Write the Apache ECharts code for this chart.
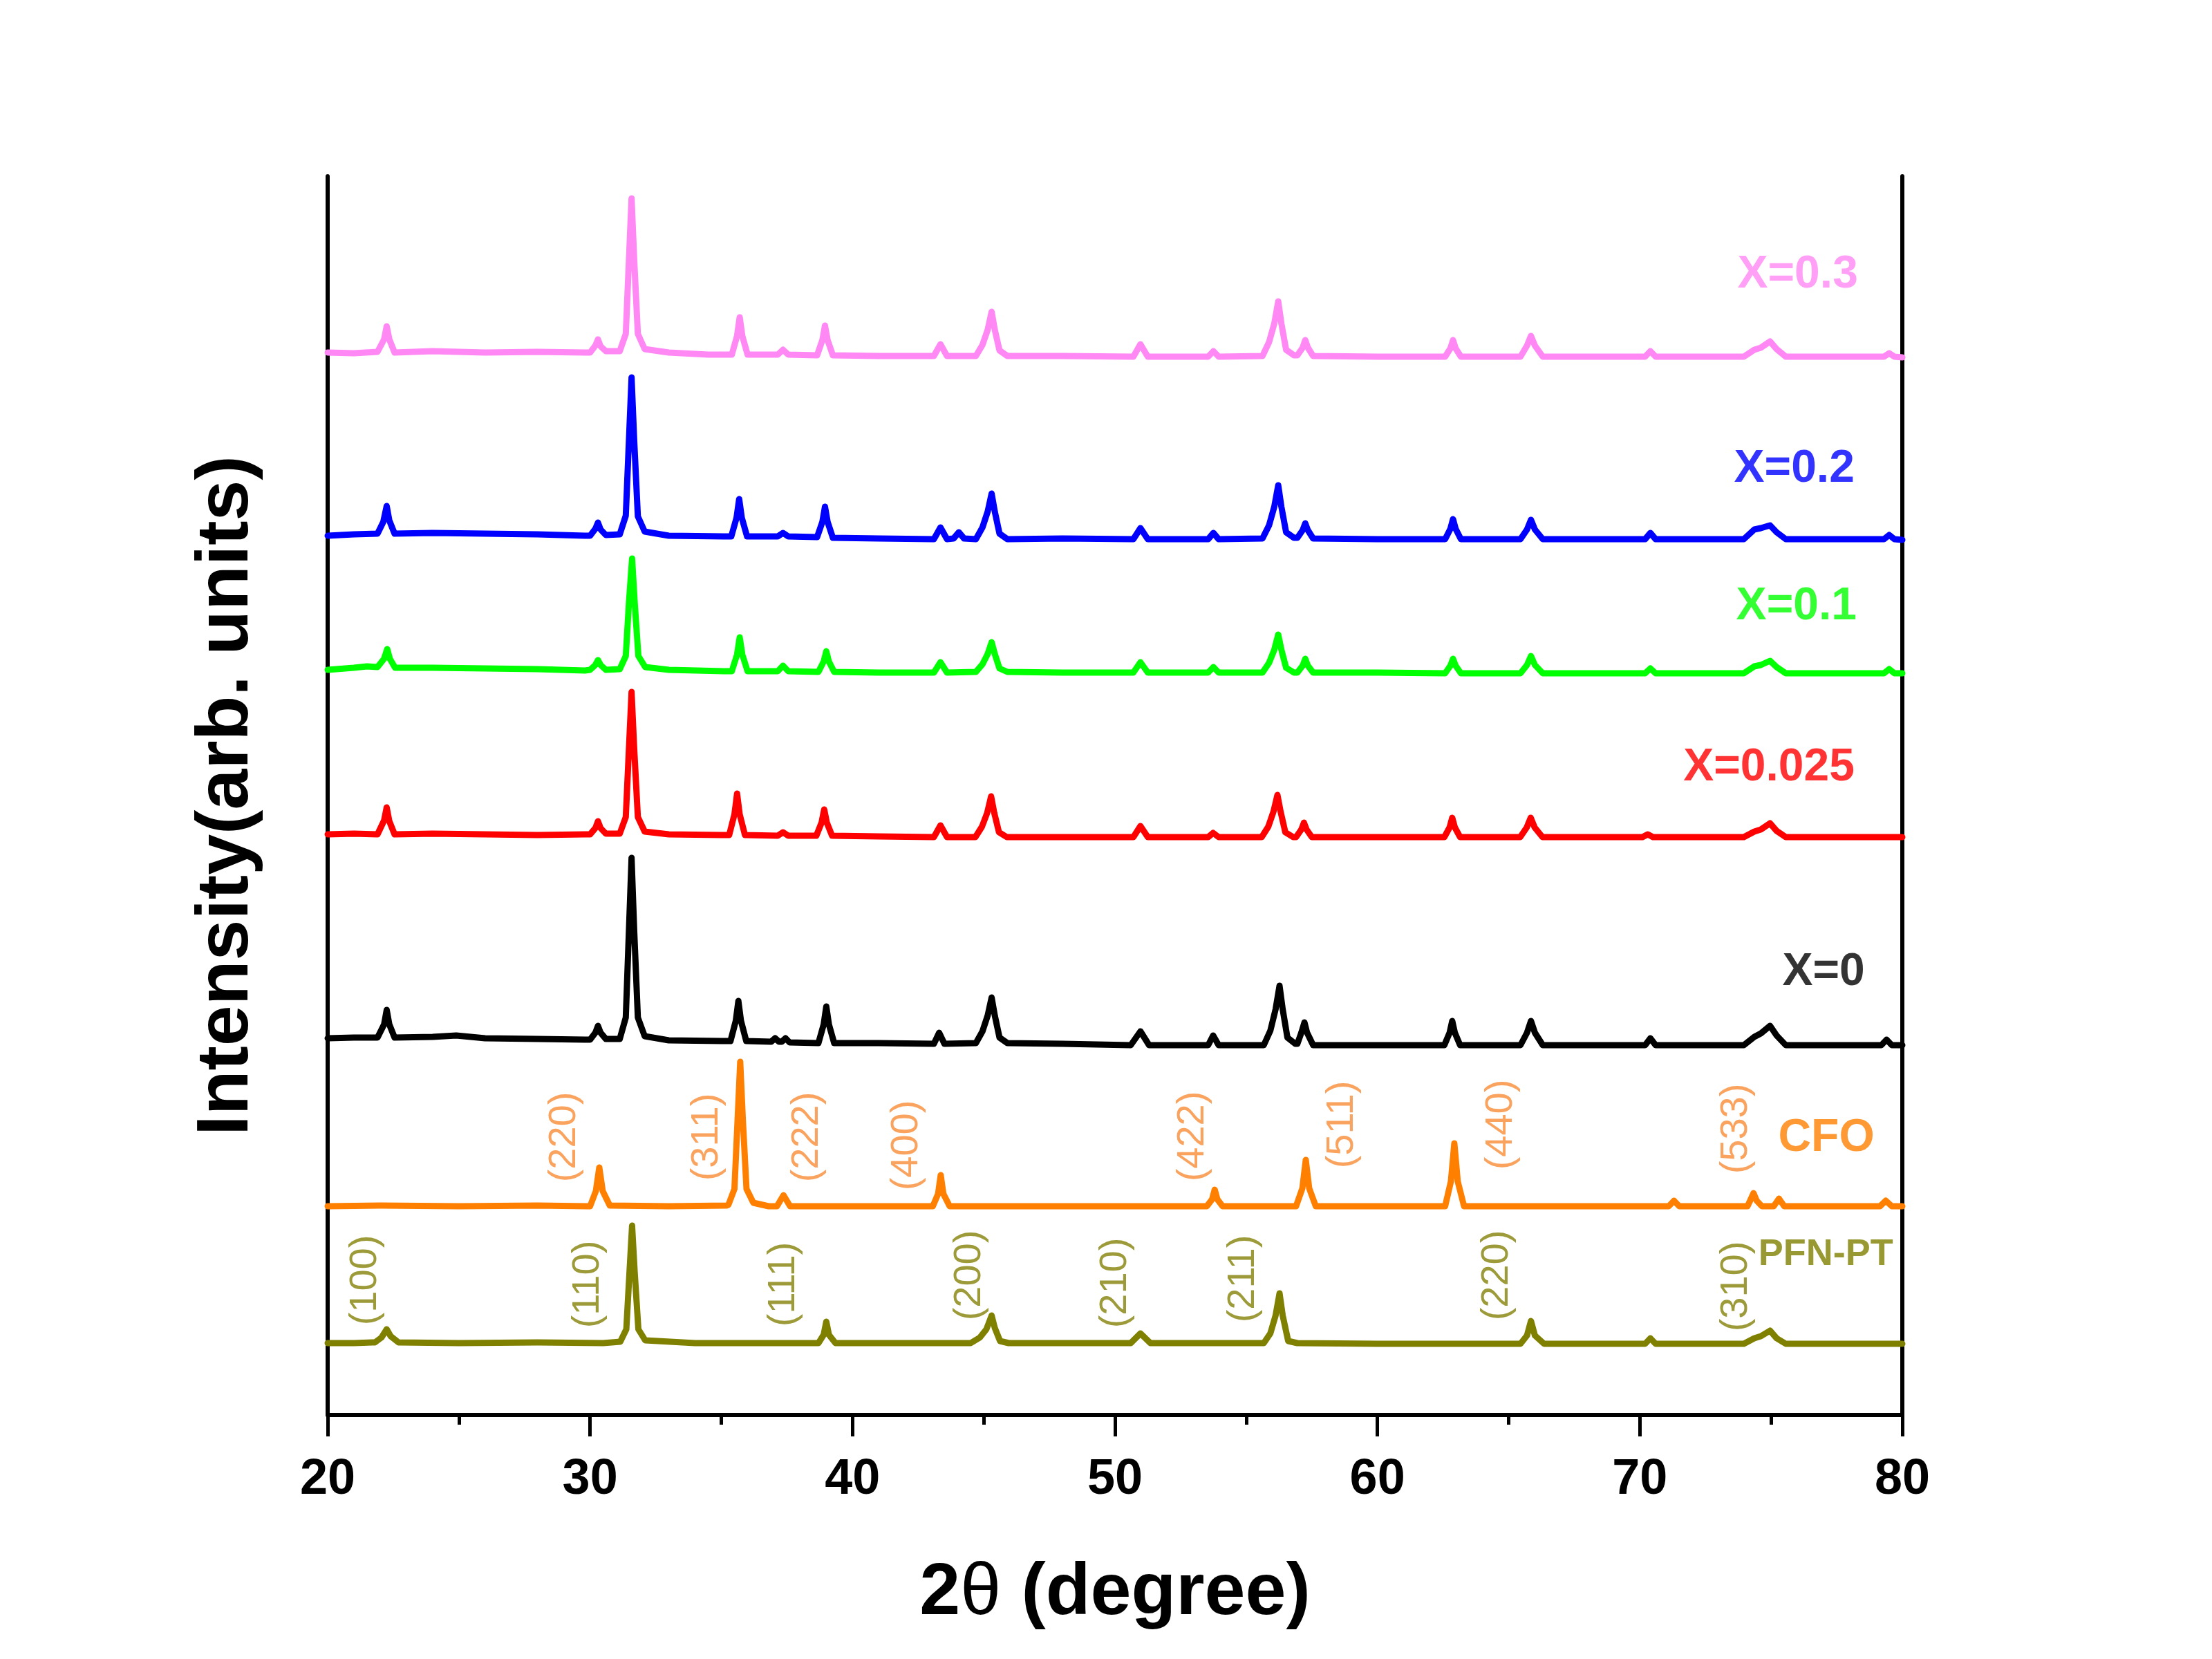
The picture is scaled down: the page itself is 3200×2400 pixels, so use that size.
<!DOCTYPE html>
<html>
<head>
<meta charset="utf-8">
<script src="https://cdn.jsdelivr.net/npm/echarts@6/dist/echarts.min.js"></script>
<style>
html,body{margin:0;padding:0;background:#fff;}
#chart{width:3200px;height:2400px;}
</style>
</head>
<body>
<div id="chart"></div>
<script>
// ---- DATA (2θ in degrees, intensity in arbitrary units relative to each pattern's baseline) ----
var seriesNames = ['PFN-PT', 'CFO', 'X=0', 'X=0.025', 'X=0.1', 'X=0.2', 'X=0.3'];
var seriesColors = ['#808000', '#FF8000', '#000000', '#FF0000', '#00FF00', '#0000FF', '#FF88F4'];
var seriesOffsets = [104, 302, 545, 840, 1080, 1274, 1537];

var pfnpt = [[20,0],[21,0],[21.7,1],[21.8,1],[22.05,8],[22.25,20],[22.4,10],[22.7,1],[25,0],[28,1],[30.5,0],
  [31.15,2],[31.38,20],[31.5,102],[31.6,170],[31.7,102],[31.84,20],[32.1,4],[34,0],[38.6,0],
  [38.7,0],[38.9,12],[39.0,31],[39.1,12],[39.35,0],[42,0],[44.4,0],
  [44.5,0],[44.85,8],[45.1,20],[45.3,40],[45.42,22],[45.62,3],[45.95,0],[48,0],
  [50.6,0],[50.97,14],[51.35,0],[54,0],
  [55.67,0],[55.92,14],[56.12,40],[56.27,72],[56.39,40],[56.6,3],[56.95,0],[60,-1],
  [65.45,-1],[65.7,11],[65.85,32],[66.0,11],[66.35,-1],[68,-1],[70.2,-1],[70.4,7],[70.6,-1],[73.5,-1],
  [73.96,-1],[74.36,7],[74.61,10],[74.96,18],[75.21,7],[75.56,-1],[78,-1],[80,-1]];

var cfo = [[20,0],[22,1],[25,0],[28,1],[29.9,0],
  [30.0,0],[30.22,22],[30.35,56],[30.48,22],[30.75,1],[33,0],[35.2,1],
  [35.27,2],[35.5,25],[35.62,125],[35.72,209],[35.82,125],[35.96,25],[36.22,5],[36.8,0],
  [37.12,0],[37.37,16],[37.62,0],[40,0],[43.0,0],
  [43.06,0],[43.26,18],[43.36,45],[43.46,18],[43.7,0],[48,0],[53.5,0],
  [53.55,0],[53.7,10],[53.8,24],[53.9,10],[54.1,0],[56.9,0],
  [56.92,0],[57.14,26],[57.27,67],[57.4,26],[57.65,0],[62.5,0],
  [62.58,0],[62.8,36],[62.93,91],[63.06,36],[63.3,0],[66,0],[71.1,0],[71.3,8],[71.5,0],
  [74.1,0],[74.2,8],[74.33,19],[74.45,8],[74.65,0],[75.1,0],[75.3,11],[75.5,0],
  [78,0],[79.15,0],[79.37,8],[79.6,0],[80,0]];

var x000 = [[20,0],[21,1],[21.9,1],[21.95,1],[22.15,20],[22.25,41],[22.35,20],[22.55,1],
  [24,2],[24.9,4],[26,0],[28,-1],[29.8,-2],
  [30.0,-2],[30.2,8],[30.3,18],[30.4,8],[30.6,-1],
  [31.13,-1],[31.36,30],[31.48,156],[31.58,261],[31.68,156],[31.82,30],[32.08,3],[33,-3],[35.0,-4],
  [35.35,-4],[35.55,25],[35.65,54],[35.75,25],[35.95,-4],
  [36.9,-5],[37.05,0],[37.2,-5],[37.3,-5],[37.45,0],[37.6,-6],
  [38.7,-7],[38.9,20],[39.0,46],[39.1,20],[39.3,-7],[41,-7],[43.1,-8],[43.3,8],[43.5,-8],
  [44.7,-7],[44.95,10],[45.15,33],[45.3,59],[45.42,33],[45.6,1],[45.9,-7],[48,-8],
  [50.6,-10],[50.97,10],[51.3,-10],[53.55,-10],[53.74,4],[53.95,-10],
  [55.67,-10],[55.92,11],[56.12,42],[56.27,76],[56.39,42],[56.57,1],[56.87,-8],
  [56.95,-8],[57.1,8],[57.22,23],[57.32,8],[57.55,-10],[60,-10],
  [62.55,-10],[62.75,8],[62.85,25],[62.95,8],[63.15,-10],
  [65.45,-10],[65.7,8],[65.85,25],[66.0,8],[66.3,-10],[68,-10],[70.2,-10],[70.4,0],[70.6,-10],[73.5,-10],
  [73.96,-10],[74.36,2],[74.61,7],[74.96,18],[75.21,4],[75.56,-10],[77,-10],[79.2,-10],[79.4,-2],[79.6,-10],[80,-10]];

var x0025 = [[20,0],[21,1],[21.9,0],[21.95,0],[22.15,20],[22.25,39],[22.35,19],[22.55,0],
  [24,1],[26,0],[28,-1],[29.8,0],
  [30.0,0],[30.2,9],[30.3,19],[30.4,9],[30.6,1],
  [31.13,1],[31.36,25],[31.48,124],[31.58,206],[31.68,124],[31.82,25],[32.08,4],[33,0],[35.0,-1],
  [35.3,-1],[35.5,29],[35.6,59],[35.7,29],[35.9,-1],[37.15,-2],[37.35,3],[37.55,-2],
  [38.62,-2],[38.82,17],[38.92,36],[39.02,17],[39.22,-2],[41,-3],[43.1,-4],[43.35,13],[43.6,-4],
  [44.68,-4],[44.93,11],[45.13,31],[45.28,55],[45.4,31],[45.58,3],[45.88,-4],[48,-4],
  [50.7,-4],[50.97,12],[51.25,-4],[53.55,-4],[53.74,2],[53.95,-4],
  [55.59,-4],[55.84,11],[56.04,33],[56.19,57],[56.31,33],[56.49,3],[56.79,-4],
  [56.9,-4],[57.1,7],[57.2,17],[57.3,7],[57.5,-4],[60,-4],
  [62.55,-4],[62.75,10],[62.85,24],[62.95,10],[63.15,-4],
  [65.44,-4],[65.69,10],[65.84,24],[65.99,10],[66.29,-4],[68,-4],[70.1,-4],[70.3,0],[70.5,-4],[73.5,-4],
  [73.96,-4],[74.36,4],[74.61,7],[74.96,16],[75.21,5],[75.56,-4],[77,-4],[80,-4]];

var x010 = [[20,-2],[21,1],[21.5,3],[21.9,2],[21.95,1],[22.15,14],[22.27,28],[22.37,14],[22.57,1],
  [24,1],[26,0],[28,-1],[29.8,-3],
  [30.0,-2],[30.2,5],[30.3,12],[30.4,5],[30.6,-2],
  [31.13,-1],[31.36,18],[31.48,95],[31.6,159],[31.7,95],[31.84,18],[32.1,2],[33,-2],[35.1,-4],
  [35.4,-4],[35.6,20],[35.7,45],[35.8,20],[36.0,-4],[37.15,-4],[37.35,4],[37.55,-4],
  [38.7,-5],[38.9,10],[39.0,25],[39.1,10],[39.3,-5],[41,-6],[43.1,-6],[43.35,9],[43.6,-6],
  [44.7,-5],[44.95,6],[45.15,21],[45.3,38],[45.42,21],[45.6,0],[45.9,-5],[48,-6],
  [50.7,-6],[50.97,9],[51.25,-6],[53.55,-6],[53.75,2],[53.95,-6],
  [55.62,-6],[55.87,8],[56.07,27],[56.22,49],[56.34,27],[56.52,1],[56.82,-6],
  [56.95,-6],[57.15,4],[57.25,14],[57.35,4],[57.55,-6],[60,-6],
  [62.58,-7],[62.78,4],[62.88,14],[62.98,4],[63.18,-7],
  [65.45,-7],[65.7,5],[65.85,18],[66.0,5],[66.3,-7],[68,-7],[70.2,-7],[70.4,0],[70.6,-7],[73.5,-7],
  [73.96,-7],[74.36,3],[74.61,5],[74.96,11],[75.21,2],[75.56,-7],[77,-7],[79.3,-7],[79.5,-1],[79.7,-7],[80,-7]];

var x020 = [[20,-2],[21,0],[21.9,1],[21.95,0],[22.12,18],[22.25,41],[22.35,20],[22.55,1],
  [24,2],[26,1],[28,0],[29.8,-2],
  [30.0,-2],[30.2,8],[30.3,17],[30.4,7],[30.6,-1],
  [31.13,0],[31.36,27],[31.48,136],[31.58,227],[31.68,136],[31.82,26],[32.08,4],[33,-2],[35.1,-3],
  [35.38,-3],[35.58,24],[35.68,51],[35.78,24],[35.98,-3],[37.15,-3],[37.35,2],[37.55,-3],
  [38.65,-4],[38.85,18],[38.95,40],[39.05,18],[39.25,-5],[41,-6],[43.1,-7],[43.35,10],[43.6,-7],
  [43.85,-6],[44.05,3],[44.25,-6],
  [44.7,-7],[44.95,10],[45.15,33],[45.3,59],[45.42,33],[45.6,1],[45.9,-7],[48,-6],
  [50.7,-7],[50.97,9],[51.25,-7],[53.55,-7],[53.75,2],[53.95,-7],
  [55.62,-6],[55.87,13],[56.07,40],[56.22,71],[56.34,40],[56.52,3],[56.82,-5],
  [56.95,-5],[57.15,6],[57.25,16],[57.35,6],[57.55,-6],[60,-7],
  [62.58,-7],[62.78,8],[62.88,22],[62.98,8],[63.18,-7],
  [65.45,-7],[65.7,7],[65.85,21],[66.0,7],[66.3,-7],[68,-7],[70.2,-7],[70.4,2],[70.6,-7],[73.5,-7],
  [73.96,-7],[74.36,7],[74.61,9],[74.96,13],[75.21,3],[75.56,-7],[77,-7],[79.3,-7],[79.5,-1],[79.7,-7],[80,-8]];

var x030 = [[20,0],[21,-1],[21.9,1],[21.95,0],[22.15,19],[22.25,38],[22.35,19],[22.55,0],
  [24,2],[26,0],[28,1],[29.8,0],
  [30.0,0],[30.2,10],[30.3,19],[30.4,9],[30.6,2],
  [31.13,2],[31.36,27],[31.48,134],[31.58,223],[31.68,134],[31.82,27],[32.08,5],[33,0],[34.5,-3],
  [35.4,-3],[35.6,24],[35.7,51],[35.8,24],[36.0,-3],[37.15,-3],[37.35,4],[37.55,-3],
  [38.65,-4],[38.85,18],[38.95,39],[39.05,18],[39.25,-4],[41,-5],[43.1,-5],[43.35,12],[43.6,-5],
  [44.7,-5],[44.95,11],[45.15,33],[45.3,59],[45.42,33],[45.6,3],[45.9,-5],[48,-5],
  [50.7,-6],[50.97,12],[51.25,-6],[53.55,-6],[53.75,2],[53.95,-6],
  [55.62,-5],[55.87,15],[56.07,42],[56.22,74],[56.34,42],[56.52,4],[56.82,-4],
  [56.95,-4],[57.15,7],[57.25,18],[57.35,7],[57.55,-5],[60,-6],
  [62.58,-6],[62.78,6],[62.88,18],[62.98,6],[63.18,-6],
  [65.45,-6],[65.7,10],[65.85,24],[66.0,10],[66.3,-6],[68,-6],[70.2,-6],[70.4,2],[70.6,-6],[73.5,-6],
  [73.96,-6],[74.36,4],[74.61,7],[74.96,16],[75.21,5],[75.56,-6],[77,-6],[79.3,-6],[79.5,-1],[79.7,-6],[80,-7]];

var patterns = [pfnpt, cfo, x000, x0025, x010, x020, x030];

// series name labels: [2θ of right edge, height]
var nameLabelPos = [[79.65,232],[78.94,400],[78.57,640],[78.18,936],[78.26,1169],[78.18,1368],[78.31,1649]];

// Miller index labels
var cfoHkl = ['(220)','(311)','(222)','(400)','(422)','(511)','(440)','(533)'];
var cfoHklPos = [[29.01,402],[34.46,402],[38.28,402],[42.07,390],[52.97,403],[58.66,420],[64.72,420],[73.67,414]];
var pfnHkl = ['(100)','(110)','(111)','(200)','(210)','(211)','(220)','(310)'];
var pfnHklPos = [[21.45,195],[29.93,189],[37.36,189],[44.47,202],[50.02,191],[54.90,197],[64.56,202],[73.67,186]];

var xTicks = [20, 30, 40, 50, 60, 70, 80];

// ---- CHART ----
var FONT = 'Liberation Sans, Arial, sans-serif';
var chart = echarts.init(document.getElementById('chart'), null, {renderer: 'canvas'});

var series = [];
patterns.forEach(function (p, i) {
  series.push({
    type: 'line', name: seriesNames[i], showSymbol: false, symbol: 'none',
    data: p.map(function (d) { return [d[0], d[1] + seriesOffsets[i]]; }),
    lineStyle: {color: seriesColors[i], width: 9, cap: 'round', join: 'round'},
    z: 3, silent: true
  });
});

series.push({
  type: 'scatter', symbolSize: 0, silent: true, z: 5,
  data: nameLabelPos.map(function (d, i) {
    return {value: d, name: seriesNames[i],
      label: {color: seriesColors[i], fontSize: i === 0 ? 54 : 66}};
  }),
  label: {show: true, position: 'left', distance: 0, formatter: '{b}',
    fontFamily: FONT, fontWeight: 'bold'}
});

series.push({
  type: 'scatter', symbolSize: 0, silent: true, z: 5,
  data: cfoHklPos.map(function (d, i) { return {value: d, name: cfoHkl[i]}; }),
  label: {show: true, position: 'inside', rotate: 90, formatter: '{b}',
    fontFamily: FONT, fontSize: 56, color: '#F98C36'}
});

series.push({
  type: 'scatter', symbolSize: 0, silent: true, z: 5,
  data: pfnHklPos.map(function (d, i) { return {value: d, name: pfnHkl[i]}; }),
  label: {show: true, position: 'inside', rotate: 90, formatter: '{b}',
    fontFamily: FONT, fontSize: 56, color: '#848208'}
});

var option = {
  backgroundColor: '#ffffff',
  animation: false,
  grid: {left: 474, right: 448, top: 255, bottom: 353, containLabel: false},
  xAxis: [{
    type: 'value', min: xTicks[0], max: xTicks[xTicks.length - 1], interval: 10,
    position: 'bottom',
    name: '{b|2}{t|θ}{b| (degree)}', nameLocation: 'middle', nameGap: 206,
    nameTextStyle: {rich: {
      b: {fontFamily: FONT, fontWeight: 'bold', fontSize: 106, color: '#000'},
      t: {fontFamily: FONT, fontWeight: 'normal', fontSize: 106, color: '#000'}
    }},
    axisLine: {show: true, lineStyle: {color: '#000', width: 6}},
    axisTick: {show: true, inside: false, length: 31, lineStyle: {color: '#000', width: 5}},
    minorTick: {show: true, splitNumber: 2, length: 14, lineStyle: {color: '#000', width: 5}},
    axisLabel: {show: true, margin: 58, fontFamily: FONT, fontWeight: 'bold', fontSize: 72, color: '#000'},
    splitLine: {show: false}
  }, {
    type: 'value', min: 20, max: 80, position: 'top',
    axisLine: {show: true, lineStyle: {color: '#000', width: 6}},
    axisTick: {show: false}, axisLabel: {show: false}, splitLine: {show: false}
  }],
  yAxis: [{
    type: 'value', min: 0, max: 1792, position: 'left',
    name: 'Intensity(arb. units)', nameLocation: 'middle', nameGap: 92,
    nameTextStyle: {fontFamily: FONT, fontWeight: 'bold', fontSize: 106, color: '#000'},
    axisLine: {show: true, lineStyle: {color: '#000', width: 6}},
    axisTick: {show: false}, axisLabel: {show: false}, splitLine: {show: false}
  }, {
    type: 'value', min: 0, max: 1792, position: 'right',
    axisLine: {show: true, lineStyle: {color: '#000', width: 6}},
    axisTick: {show: false}, axisLabel: {show: false}, splitLine: {show: false}
  }],
  series: series
};
chart.setOption(option);
</script>
</body>
</html>
